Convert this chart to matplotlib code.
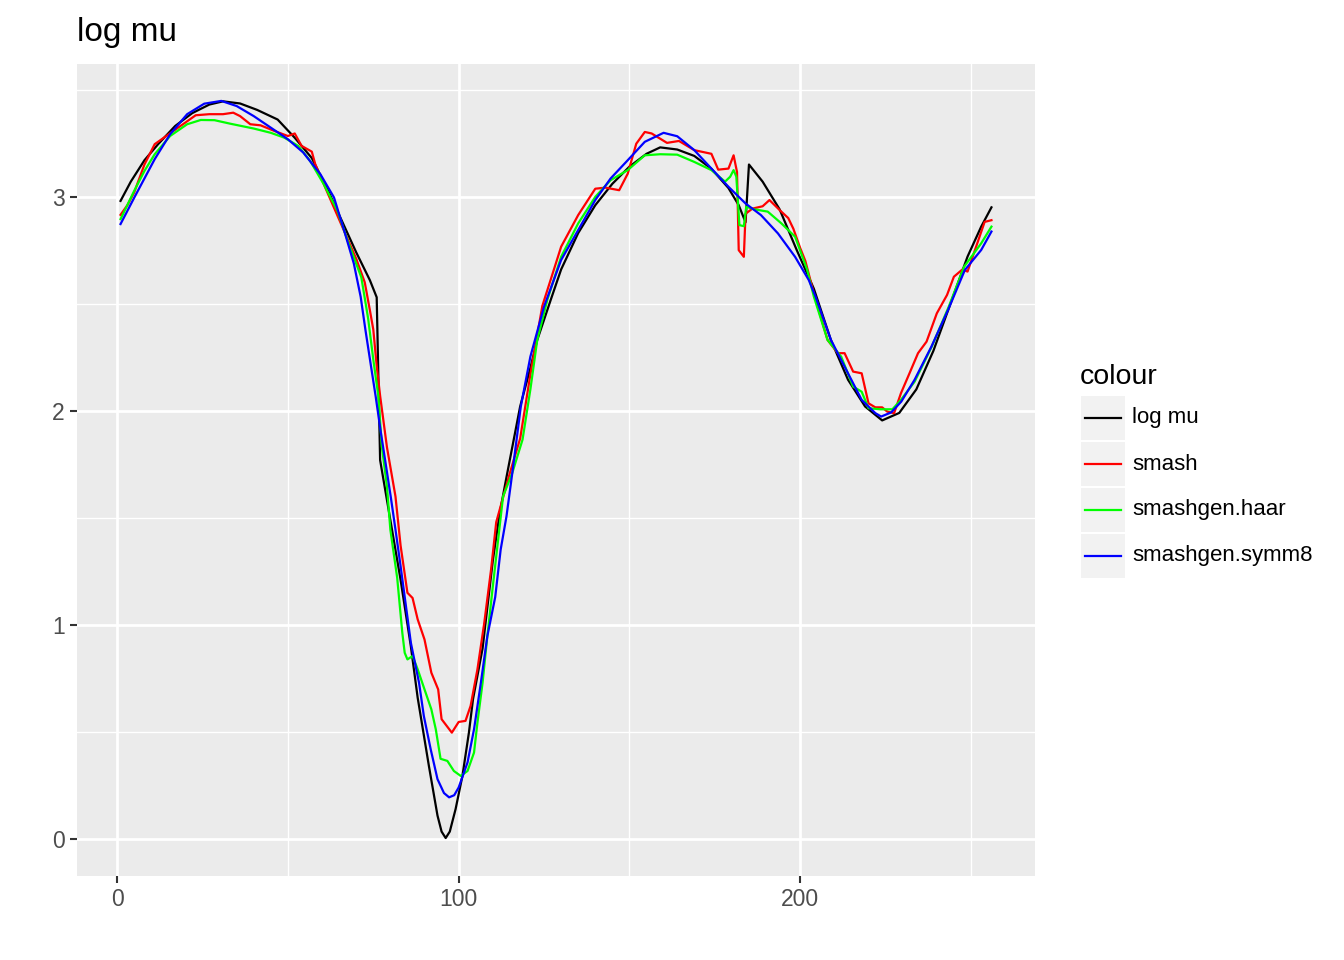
import matplotlib
matplotlib.use("Agg")
import matplotlib.pyplot as plt
from matplotlib.lines import Line2D
from matplotlib.patches import Rectangle

plt.rcParams['font.family'] = ['Liberation Sans', 'DejaVu Sans']

# --- values (index vs. log mu) ---
logmu_x = [1, 4, 8, 12, 17, 22, 27, 31, 36, 41, 47, 52, 57, 62, 66, 70, 74, 76,
           77, 80, 83, 86, 88, 91.3, 93.8, 95, 96.2, 97.4, 99.1, 101.1, 103,
           104.2, 107, 110, 112, 114, 118, 121, 123, 127, 130, 135, 140, 145,
           150, 155, 159, 164, 169, 174, 179, 182, 184, 185, 189, 194, 199, 204,
           209, 214, 219, 224, 229, 234, 239, 244, 249, 253, 256]
logmu_y = [2.98, 3.07, 3.17, 3.245, 3.33, 3.39, 3.43, 3.445, 3.435, 3.405, 3.36,
           3.275, 3.18, 3.02, 2.88, 2.74, 2.61, 2.53, 1.77, 1.49, 1.21, 0.90,
           0.66, 0.34, 0.11, 0.035, 0.005, 0.035, 0.14, 0.295, 0.497, 0.653,
           0.89, 1.30, 1.52, 1.69, 2.02, 2.20, 2.33, 2.52, 2.66, 2.83, 2.96,
           3.06, 3.14, 3.20, 3.23, 3.22, 3.19, 3.13, 3.04, 2.96, 2.88, 3.15,
           3.07, 2.94, 2.75, 2.57, 2.33, 2.145, 2.02, 1.955, 1.99, 2.10, 2.28,
           2.50, 2.72, 2.86, 2.95]

smash_x = [1, 3, 5, 8, 11, 15, 19, 23, 27, 31, 34, 36, 39, 42, 46, 50, 52, 54,
           57, 58, 61, 64, 67, 70, 72.5, 74, 75, 76, 77, 79, 81.5, 83, 85, 86.5,
           88, 90, 92, 94, 95, 98, 100, 102, 103.5, 105.5, 107.5, 109.5, 111,
           115, 118, 121, 124.5, 127.5, 130, 135, 140, 143, 147, 149.5, 152,
           154.5, 156.5, 161, 164.5, 169, 174, 176, 179, 180.5, 181.5, 182,
           183.5, 184, 186, 189, 191, 194, 196.5, 198, 200, 201.5, 204, 208,
           211, 213, 215.5, 218, 220, 222, 224, 225.5, 227.5, 229.5, 232, 234.5,
           237, 240, 243, 245, 247.5, 249, 252, 254, 256]
smash_y = [2.915, 2.96, 3.02, 3.15, 3.245, 3.29, 3.335, 3.38, 3.385, 3.385,
           3.392, 3.376, 3.338, 3.333, 3.307, 3.283, 3.295, 3.237, 3.21, 3.152,
           3.04, 2.93, 2.82, 2.71, 2.60, 2.47, 2.38, 2.21, 2.07, 1.83, 1.60,
           1.37, 1.15, 1.126, 1.026, 0.932, 0.777, 0.699, 0.56, 0.497, 0.547,
           0.552, 0.622, 0.793, 1.01, 1.26, 1.48, 1.71, 1.87, 2.17, 2.49, 2.64,
           2.766, 2.914, 3.037, 3.042, 3.03, 3.107, 3.247, 3.302, 3.295, 3.251,
           3.26, 3.217, 3.20, 3.126, 3.131, 3.193, 3.115, 2.75, 2.719, 2.92,
           2.944, 2.955, 2.984, 2.937, 2.90, 2.85, 2.76, 2.70, 2.548, 2.331,
           2.269, 2.269, 2.183, 2.175, 2.035, 2.016, 2.016, 1.996, 1.989, 2.082,
           2.175, 2.269, 2.323, 2.455, 2.541, 2.626, 2.66, 2.65, 2.789, 2.882,
           2.89]

haar_x = [1, 5, 8, 11, 15.5, 20.5, 24.5, 28.5, 33, 40, 45, 49, 53, 56.5, 60.5,
          64.5, 67.5, 71.5, 73.5, 75, 76.5, 77.5, 79, 80, 82, 83.5, 84.2, 85,
          86.5, 88, 90, 92, 93.3, 94.7, 96.7, 98.6, 100.6, 102.6, 104.5, 105.5,
          107, 108.4, 110, 113, 115.7, 118.7, 121, 123, 126, 130, 135, 140,
          144.5, 149.5, 154.5, 159, 164, 169, 174, 178, 179.5, 180.5, 181.3,
          182.2, 183.5, 184.2, 186.5, 190.5, 194.5, 198.5, 202, 204, 208, 212,
          215.5, 218, 220, 223.5, 227, 229.5, 233.5, 238.5, 243.5, 248, 253, 256]
haar_y = [2.895, 3.027, 3.12, 3.198, 3.283, 3.338, 3.358, 3.357, 3.341, 3.318,
          3.298, 3.275, 3.237, 3.167, 3.058, 2.934, 2.794, 2.623, 2.43, 2.24,
          2.067, 1.834, 1.647, 1.445, 1.22, 0.963, 0.87, 0.839, 0.855, 0.793,
          0.699, 0.606, 0.513, 0.375, 0.365, 0.318, 0.295, 0.318, 0.404, 0.544,
          0.73, 0.948, 1.18, 1.60, 1.71, 1.865, 2.10, 2.33, 2.52, 2.719, 2.875,
          2.999, 3.077, 3.124, 3.193, 3.198, 3.196, 3.162, 3.124, 3.07, 3.093,
          3.124, 3.093, 2.867, 2.862, 2.953, 2.941, 2.93, 2.875, 2.813, 2.66,
          2.533, 2.331, 2.253, 2.113, 2.089, 2.012, 2.007, 2.007, 2.051, 2.136,
          2.299, 2.486, 2.673, 2.782, 2.86]

symm8_x = [1, 5, 11, 15.5, 20.5, 25.5, 30.5, 35, 40, 45, 50, 54.5, 59.5, 63.5,
           66.5, 69.3, 71.3, 72.7, 74.2, 75.7, 77.1, 78.6, 80.1, 81.5, 83, 86,
           88.4, 89.8, 91.8, 93.8, 95.7, 97.2, 98.7, 100, 102.6, 104.5, 106.5,
           108.4, 110.7, 112.3, 114, 115.7, 118.2, 121, 125, 130, 135, 140,
           144.5, 149.5, 154.5, 160, 164, 169, 174, 179, 184, 188.5, 193.5,
           198.5, 202.5, 204.5, 209, 214, 218, 222, 223.7, 226.6, 229.6, 233.5,
           238.4, 243.3, 248.2, 253, 256]
symm8_y = [2.872, 2.995, 3.175, 3.291, 3.385, 3.434, 3.447, 3.423, 3.376, 3.322,
           3.268, 3.206, 3.105, 2.996, 2.84, 2.688, 2.533, 2.378, 2.222, 2.067,
           1.911, 1.756, 1.60, 1.445, 1.274, 0.917, 0.73, 0.575, 0.42, 0.28,
           0.215, 0.195, 0.205, 0.241, 0.358, 0.513, 0.73, 0.948, 1.13, 1.352,
           1.507, 1.709, 2.02, 2.253, 2.486, 2.704, 2.844, 2.984, 3.085, 3.17,
           3.256, 3.298, 3.282, 3.217, 3.131, 3.046, 2.968, 2.914, 2.828, 2.719,
           2.611, 2.533, 2.331, 2.175, 2.051, 1.989, 1.973, 1.992, 2.043, 2.145,
           2.299, 2.471, 2.657, 2.751, 2.837]

series_names = ["log mu", "smash", "smashgen.haar", "smashgen.symm8"]
series_colors = ["black", "#FF0000", "#00FF00", "#0000FF"]
series_x = [logmu_x, smash_x, haar_x, symm8_x]
series_y = [logmu_y, smash_y, haar_y, symm8_y]

W, H = 1344, 960
fig = plt.figure(figsize=(W / 100, H / 100), dpi=100)
ax = fig.add_axes([77 / W, 1 - 876 / H, (1035 - 77) / W, (876 - 64) / H])
ax.set_facecolor("#EBEBEB")
for s in ax.spines.values():
    s.set_visible(False)

for xs, ys, c in zip(series_x, series_y, series_colors):
    ax.plot(xs, ys, color=c, lw=1.6, solid_joinstyle="round", zorder=3)

# ggplot-like scales: 5% expansion
x0, x1 = 1, 256
y0, y1 = 0.0, 3.447
ax.set_xlim(x0 - 0.05 * (x1 - x0), x1 + 0.05 * (x1 - x0))
ax.set_ylim(y0 - 0.05 * (y1 - y0), y1 + 0.05 * (y1 - y0))

ax.set_xticks([0, 100, 200])
ax.set_xticks([50, 150, 250], minor=True)
ax.set_yticks([0, 1, 2, 3])
ax.set_yticks([0.5, 1.5, 2.5, 3.5], minor=True)
ax.grid(which="major", color="white", lw=2.0, zorder=0)
ax.grid(which="minor", color="white", lw=1.0, zorder=0)
ax.set_axisbelow(True)
ax.tick_params(which="major", length=5, width=1.5, color="#333333",
               labelsize=16.5, labelcolor="#4D4D4D", pad=4)
ax.tick_params(which="minor", length=0)

fig.text(77 / W, 1 - 41 / H, "log mu", fontsize=24, va="baseline", ha="left")

# legend drawn in figure pixel coordinates
fig.text(1080 / W, 1 - 384 / H, "colour", fontsize=20.5, va="baseline", ha="left")
for i, (name, c) in enumerate(zip(series_names, series_colors)):
    top = 396 + 46 * i
    fig.patches.append(Rectangle((1081 / W, 1 - (top + 44) / H), 44 / W, 44 / H,
                                 transform=fig.transFigure, facecolor="#F2F2F2",
                                 edgecolor="none"))
    yc = 1 - (top + 22) / H
    fig.lines.append(Line2D([1085 / W, 1121 / W], [yc, yc], color=c, lw=1.6,
                            transform=fig.transFigure))
    fig.text(1132 / W, yc, name, fontsize=16, va="center", ha="left")

fig.savefig("out.png", dpi=100)
